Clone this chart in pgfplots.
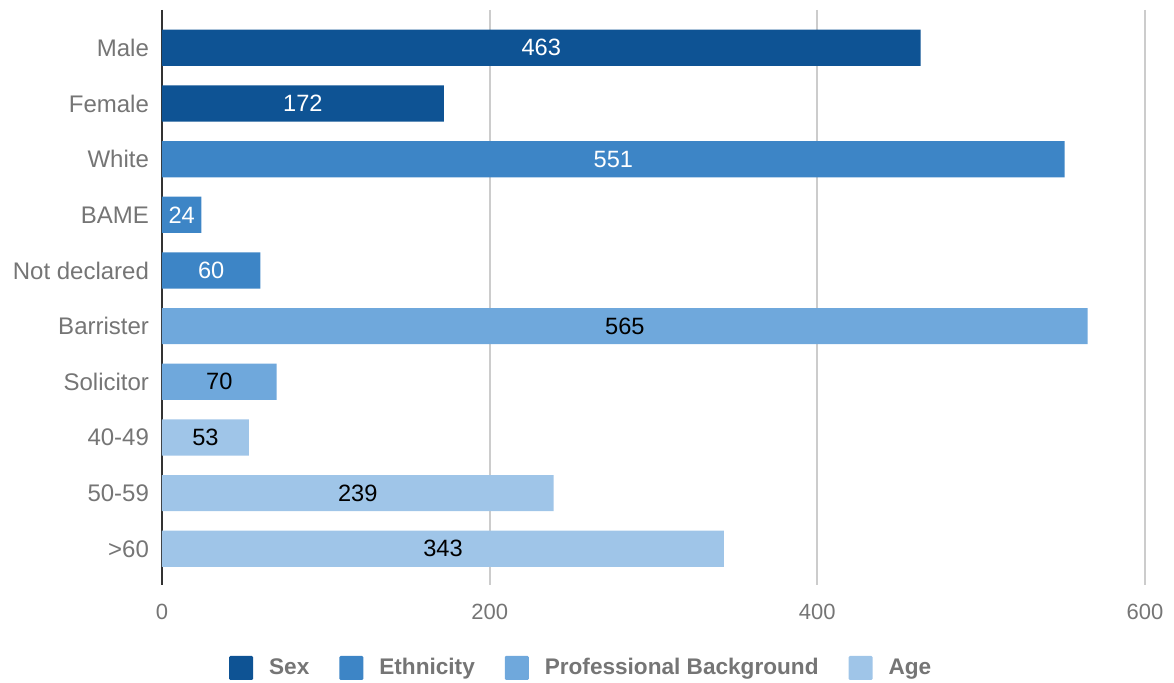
\documentclass[border=0pt]{standalone}
\usepackage{pgfplots}
\pgfplotsset{compat=1.18}
\usepackage{fontspec}
\setmainfont{Liberation Sans}
\definecolor{csex}{HTML}{0E5394}
\definecolor{ceth}{HTML}{3D85C6}
\definecolor{cpro}{HTML}{6FA8DC}
\definecolor{cage}{HTML}{9FC5E8}
\definecolor{tgray}{HTML}{757575}
\definecolor{ggray}{HTML}{CCCCCC}
\pgfplotsset{/pgf/number format/assume math mode=true}
\begin{document}
\begin{tikzpicture}
\begin{axis}[
  at={(0pt,0pt)}, anchor=south west,
  scale only axis, width=491.5pt, height=287.5pt,
  xbar, bar shift=0pt, bar width=0.65,
  y dir=reverse,
  xmin=0, xmax=600, ymin=-0.68, ymax=9.65,
  xtick={200,400,600},
  extra x ticks={0}, extra x tick labels={0},
  extra x tick style={grid style={draw=black!80, line width=1pt}},
  xmajorgrids, grid style={draw=ggray, line width=1pt},
  ytick={0,...,9},
  yticklabels={Male,Female,White,BAME,Not declared,Barrister,Solicitor,40-49,50-59,>60},
  major tick length=0pt,
  axis line style={draw=none},
  yticklabel style={font=\fontsize{12}{13}\selectfont, text=tgray, xshift=-3pt},
  xticklabel style={font=\fontsize{11}{13}\selectfont, text=tgray, yshift=-6pt},
  point meta=x,
  visualization depends on=rawx \as \rawx,
  nodes near coords,
  nodes near coords style={anchor=center, font=\fontsize{11.8}{13}\selectfont, shift={(axis direction cs:-\rawx/2,0)}},
  legend style={at={(axis description cs:0.4275,-0.1443)}, anchor=center, legend columns=4, draw=none, fill=none,
    font=\bfseries\fontsize{11.3}{13}\selectfont, text=tgray,
    /tikz/every odd column/.append style={column sep=6pt},
    /tikz/every even column/.append style={column sep=13pt}},
  legend image code/.code={\fill[#1, rounded corners=0.6pt] (0pt,-6pt) rectangle (12pt,6pt);},
  legend cell align=left,
]
\addplot[draw=none, fill=csex, nodes near coords style={text=white}] coordinates {(463,0) (172,1)};
\addlegendentry{Sex}
\addplot[draw=none, fill=ceth, nodes near coords style={text=white}] coordinates {(551,2) (24,3) (60,4)};
\addlegendentry{Ethnicity}
\addplot[draw=none, fill=cpro, nodes near coords style={text=black}] coordinates {(565,5) (70,6)};
\addlegendentry{Professional Background}
\addplot[draw=none, fill=cage, nodes near coords style={text=black}] coordinates {(53,7) (239,8) (343,9)};
\addlegendentry{Age}
\end{axis}
\pgfresetboundingbox
\path (-81pt,-49pt) rectangle (506pt,292.5pt);
\end{tikzpicture}
\end{document}
